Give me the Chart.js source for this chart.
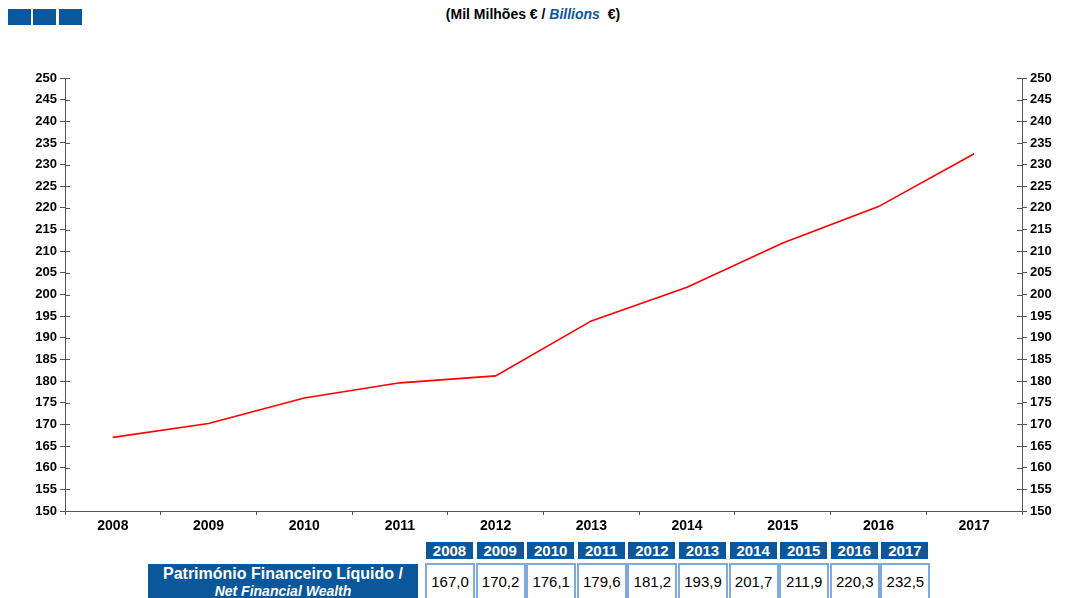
<!DOCTYPE html>
<html>
<head>
<meta charset="utf-8">
<script src="https://cdn.jsdelivr.net/npm/chart.js@4.4.0/dist/chart.umd.min.js"></script>
<style>
  body { margin: 0; background: #fff; font-family: "Liberation Sans", Arial, sans-serif; }
  #page { position: relative; width: 1066px; height: 598px; overflow: hidden; }
  .sq { position: absolute; top: 9px; width: 23px; height: 16px; background: #0b579b; }
  #title { position: absolute; top: 6px; left: 0; width: 1066px; text-align: center;
           font-size: 14px; font-weight: bold; color: #000; }
  #title i { color: #0b579b; }
  #wrap { position: absolute; left: 0; top: 0; width: 1066px; height: 540px; }
  .hd { position: absolute; top: 542px; height: 17px; width: 47px; background: #0b579b; color: #fff;
        font-weight: bold; font-size: 15px; line-height: 17px; text-align: center; }
  .val { position: absolute; top: 563px; height: 40px; width: 50px; border: 2px solid #80a9dd;
         box-sizing: border-box; font-size: 15px; line-height: 33px; text-align: center; color: #000; }
  #lbl { position: absolute; left: 148px; top: 564px; width: 270px; height: 40px; background: #0b579b;
         color: #fff; font-weight: bold; font-size: 16px; text-align: center; line-height: 17px; padding-top: 1px; }
  #lbl i { font-size: 14px; }
</style>
</head>
<body>
<div id="page">
  <div class="sq" style="left:8px"></div>
  <div class="sq" style="left:33px"></div>
  <div class="sq" style="left:59px"></div>
  <div id="title">(Mil Milhões € / <i>Billions</i> &nbsp;€)</div>
  <div id="wrap"><canvas id="chart"></canvas></div>
  <div id="lbl">Património Financeiro Líquido /<br><i>Net Financial Wealth</i></div>
  <div id="table"></div>
</div>
<script>
const years = ["2008", "2009", "2010", "2011", "2012", "2013", "2014", "2015", "2016", "2017"];
const netWealth = [167.0, 170.2, 176.1, 179.6, 181.2, 193.9, 201.7, 211.9, 220.3, 232.5];
const yMin = 150, yMax = 250, yStep = 5;

// values table under the plot
const table = document.getElementById('table');
years.forEach((y, i) => {
  const x = 426 + i * 50.6;
  const hd = document.createElement('div');
  hd.className = 'hd';
  hd.style.left = x + 'px';
  hd.textContent = y;
  table.appendChild(hd);
  const v = document.createElement('div');
  v.className = 'val';
  v.style.left = (x - 1) + 'px';
  v.textContent = netWealth[i].toFixed(1).replace('.', ',');
  table.appendChild(v);
});

// y ticks stick out on both sides of the axis line
const crossTicks = {
  id: 'crossTicks',
  afterDraw(chart) {
    const ctx = chart.ctx;
    ctx.save();
    ctx.strokeStyle = '#555';
    ctx.lineWidth = 1;
    ['y', 'y2'].forEach(id => {
      const s = chart.scales[id];
      const x = id === 'y' ? s.right : s.left;
      const dir = id === 'y' ? 1 : -1;
      s.ticks.forEach(t => {
        const py = Math.round(s.getPixelForValue(t.value)) + 0.5;
        ctx.beginPath();
        ctx.moveTo(x, py);
        ctx.lineTo(x + dir * 5, py);
        ctx.stroke();
      });
    });
    ctx.restore();
  }
};

const yFont = { family: '"Liberation Sans", Arial, sans-serif', size: 13, weight: 'bold' };
const xFont = { family: '"Liberation Sans", Arial, sans-serif', size: 14, weight: 'bold' };

new Chart(document.getElementById('chart'), {
  type: 'line',
  data: {
    labels: years,
    datasets: [{
      data: netWealth,
      borderColor: '#ff0000',
      borderWidth: 1.6,
      pointRadius: 0,
      fill: false,
      tension: 0
    }]
  },
  options: {
    responsive: true,
    maintainAspectRatio: false,
    animation: false,
    layout: { padding: { top: 78, left: 0, right: 0, bottom: 0 } },
    plugins: { legend: { display: false }, tooltip: { enabled: false } },
    scales: {
      x: {
        offset: true,
        grid: { display: true, offset: true, drawOnChartArea: false, tickLength: 4, color: '#555' },
        border: { color: '#555', width: 1 },
        ticks: { color: '#000', font: xFont, padding: 3, maxRotation: 0 },
        afterFit: s => { s.height = 29; }
      },
      y: {
        position: 'left',
        min: yMin, max: yMax,
        grid: { drawOnChartArea: false, tickLength: 5, color: '#555' },
        border: { color: '#555', width: 1 },
        ticks: { stepSize: yStep, color: '#000', font: yFont, padding: 3 },
        afterFit: s => { s.width = 65; }
      },
      y2: {
        position: 'right',
        min: yMin, max: yMax,
        grid: { drawOnChartArea: false, tickLength: 5, color: '#555' },
        border: { color: '#555', width: 1 },
        ticks: { stepSize: yStep, color: '#000', font: yFont, padding: 3 },
        afterFit: s => { s.width = 44; }
      }
    }
  },
  plugins: [crossTicks]
});
</script>
</body>
</html>
